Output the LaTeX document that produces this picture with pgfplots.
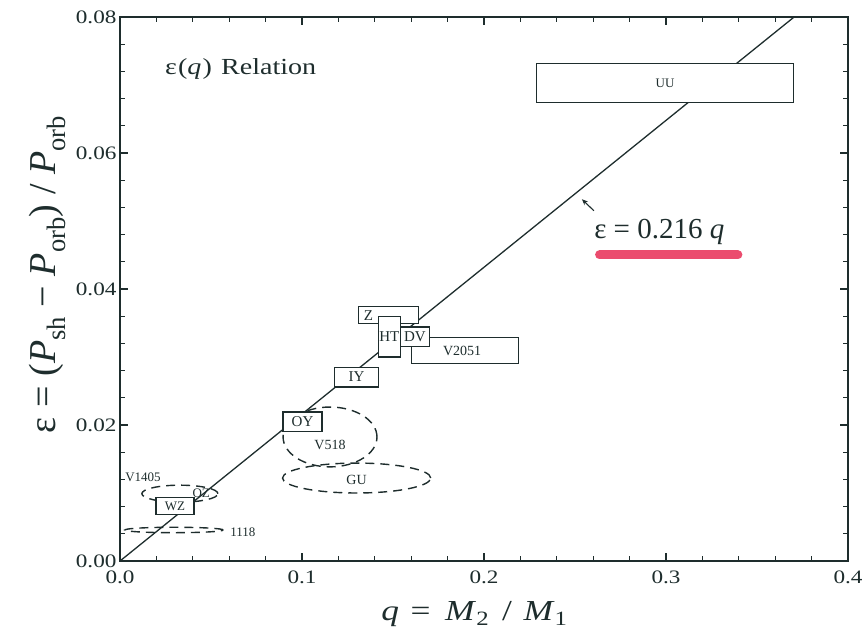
\documentclass[border=0pt]{standalone}
\usepackage{pgfplots}
\pgfplotsset{compat=1.18}
\usepackage{fontspec}
\setmainfont{Liberation Serif}
\newfontfamily\wide[FakeStretch=1.22]{Liberation Serif}
\usetikzlibrary{arrows.meta}
\definecolor{ink}{RGB}{30,45,45}
\definecolor{marker}{RGB}{232,45,85}
\newcommand{\fs}[1]{\fontsize{#1}{#1}\selectfont}
\tikzset{
  box/.style={ink, line width=1.3pt, fill=white, mark=none},
  dsh/.style={ink, line width=1.4pt, dash pattern=on 9pt off 6pt},
}
\begin{document}
\begin{tikzpicture}
\path[use as bounding box] (0,0) rectangle (867pt,644pt);
\begin{axis}[
  at={(120pt,83pt)}, anchor=south west,
  width=728pt, height=544pt, scale only axis,
  xmin=0, xmax=0.4, ymin=0, ymax=0.08,
  scaled ticks=false,
  xtick={0,0.1,0.2,0.3,0.4}, ytick={0,0.02,0.04,0.06,0.08},
  xticklabels={0.0,0.1,0.2,0.3,0.4},
  yticklabels={0.00,0.02,0.04,0.06,0.08},
  minor x tick num=4, minor y tick num=4,
  tick align=inside,
  major tick length=8pt, minor tick length=5pt,
  tick style={ink, line width=1.1pt},
  axis line style={ink, line width=1.5pt},
  ticklabel style={font=\wide\fs{19}, text=ink},
  xticklabel style={yshift=-6pt},
  xlabel={\textit{q}\hspace{0.4em}=\hspace{0.5em}\textit{M}\textsubscript{2}\hspace{0.45em}/\hspace{0.4em}\textit{M}\textsubscript{1}},
  ylabel={ε = (\textit{P}\textsubscript{sh} − \textit{P}\textsubscript{orb}) / \textit{P}\textsubscript{orb}},
  xlabel style={font=\wide\fs{29}, text=ink, at={(axis description cs:0.487,-0.097)}, anchor=center},
  ylabel style={font=\fs{38}, text=ink, at={(axis description cs:-0.100,0.527)}, anchor=center},
  clip=false,
]
% fit line
\addplot[ink, line width=1.3pt, mark=none] coordinates {(0,0) (0.3704,0.08)};
% dashed regions
\draw[dsh] (axis cs:0.1154,0.01824) ellipse [x radius=0.0258, y radius=0.0044];
\draw[dsh] (axis cs:0.130,0.0122) ellipse [x radius=0.0407, y radius=0.0022];
\draw[dsh] (axis cs:0.0329,0.0099) ellipse [x radius=0.0209, y radius=0.00125];
\draw[dsh] (axis cs:0.0297,0.00456) ellipse [x radius=0.027, y radius=0.0004];
% boxes
\addplot[box] coordinates {(0.229,0.0674)(0.370,0.0674)(0.370,0.0732)(0.229,0.0732)} -- cycle;
\addplot[box] coordinates {(0.131,0.0349)(0.164,0.0349)(0.164,0.0374)(0.131,0.0374)} -- cycle;
\addplot[box] coordinates {(0.160,0.0290)(0.219,0.0290)(0.219,0.0329)(0.160,0.0329)} -- cycle;
\addplot[box] coordinates {(0.154,0.0315)(0.170,0.0315)(0.170,0.0344)(0.154,0.0344)} -- cycle;
\addplot[box] coordinates {(0.142,0.0300)(0.154,0.0300)(0.154,0.0360)(0.142,0.0360)} -- cycle;
\addplot[box] coordinates {(0.118,0.0256)(0.142,0.0256)(0.142,0.0285)(0.118,0.0285)} -- cycle;
\addplot[box] coordinates {(0.0896,0.0190)(0.111,0.0190)(0.111,0.0219)(0.0896,0.0219)} -- cycle;
\addplot[box] coordinates {(0.0198,0.0068)(0.0407,0.0068)(0.0407,0.0093)(0.0198,0.0093)} -- cycle;
% labels
\node[font=\fs{13}, text=ink] at (axis cs:0.2995,0.0703) {UU};
\node[font=\fs{15}, text=ink] at (axis cs:0.1365,0.03615) {Z};
\node[font=\fs{15}, text=ink, inner sep=0pt] at (axis cs:0.148,0.0330) {HT};
\node[font=\fs{15}, text=ink, inner sep=0pt] at (axis cs:0.162,0.03295) {DV};
\node[font=\fs{14}, text=ink] at (axis cs:0.188,0.0309) {V2051};
\node[font=\fs{15}, text=ink] at (axis cs:0.130,0.02705) {IY};
\node[font=\fs{15}, text=ink] at (axis cs:0.1003,0.02045) {OY};
\node[font=\fs{14}, text=ink] at (axis cs:0.1154,0.0171) {V518};
\node[font=\fs{14}, text=ink] at (axis cs:0.130,0.0119) {GU};
\node[font=\fs{13}, text=ink] at (axis cs:0.03025,0.00805) {WZ};
\node[font=\fs{13}, text=ink, anchor=west, inner sep=0pt] at (axis cs:0.0028,0.0123) {V1405};
\node[font=\fs{13}, text=ink] at (axis cs:0.0446,0.0100) {OZ};
\node[font=\fs{13}, text=ink, anchor=west, inner sep=0pt] at (axis cs:0.0605,0.0043) {1118};
% annotations
\node[font=\wide\fs{23}, text=ink, anchor=west, inner sep=0pt] at (axis cs:0.0247,0.0724) {ε\hspace{0.05em}(\textit{q}\hspace{0.05em})\hspace{0.4em}Relation};
\draw[marker, line width=9pt, line cap=round, opacity=0.85] (axis cs:0.2635,0.0450) -- (axis cs:0.3395,0.0450);
\node[font=\fs{29}, text=ink, anchor=west, inner sep=0pt] at (axis cs:0.2605,0.0484) {ε = 0.216 \textit{q}};
\draw[ink, line width=1.1pt, -{Stealth[length=6pt,width=5pt]}] (axis cs:0.2604,0.0515) -- (axis cs:0.2538,0.0532);
\end{axis}
\end{tikzpicture}
\end{document}
